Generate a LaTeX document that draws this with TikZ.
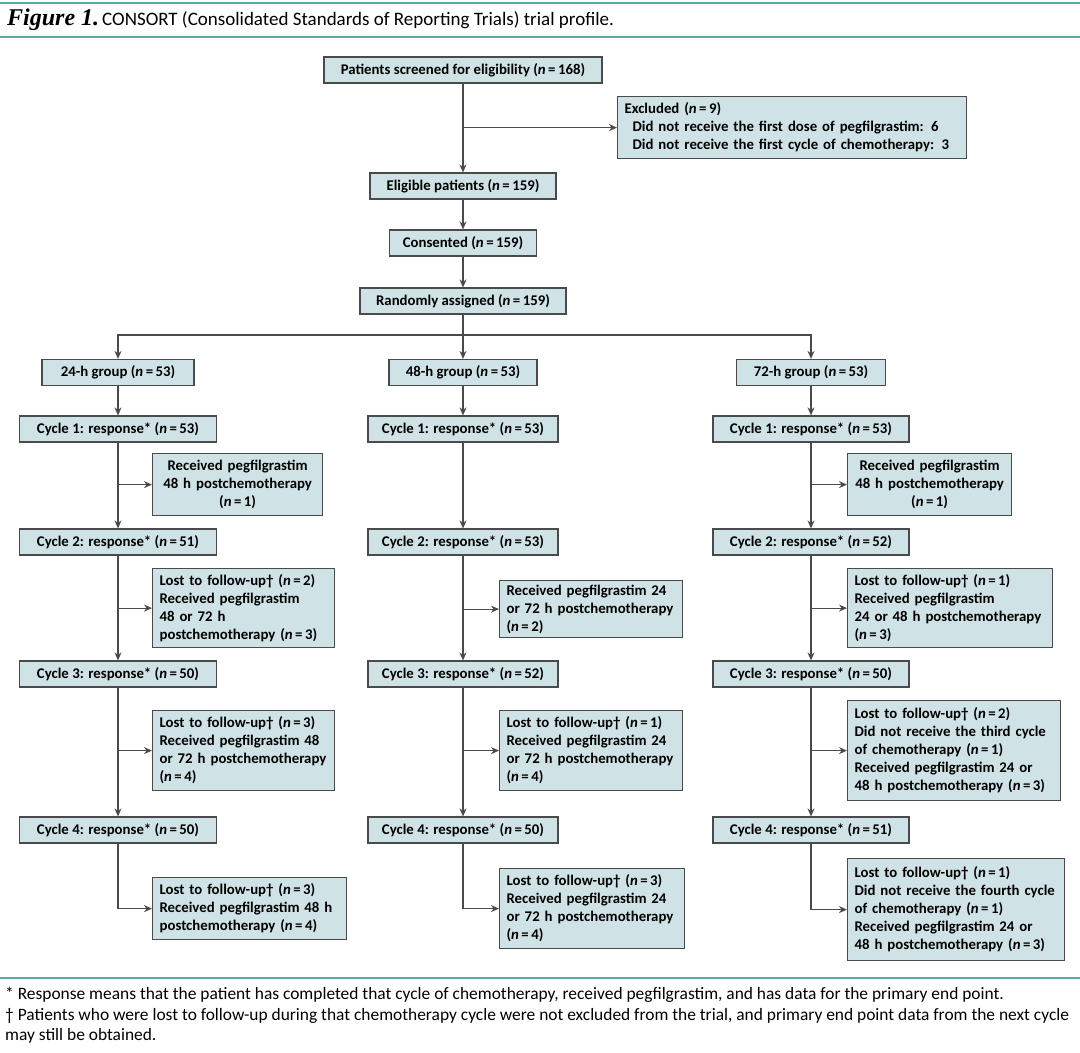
\documentclass[tikz,border=0pt]{standalone}
\usepackage{fontspec}
\setmainfont{Carlito}
\newfontfamily\serffont{Liberation Serif}
\usetikzlibrary{arrows.meta}
\definecolor{boxFill}{RGB}{207,226,229}
\definecolor{boxLine}{RGB}{74,74,74}
\definecolor{ruleTeal}{RGB}{90,168,168}
\newcommand{\nval}{\textit{n}\,=\,}
\tikzstyle{normalBox} = [shape=rectangle, draw=boxLine, fill=boxFill, line width=1.2pt,
	text=black, font=\fontsize{14.8}{18}\selectfont\bfseries]
\tikzstyle{MainBox} = [normalBox, align=center, inner sep=0pt, minimum height=26pt]
\tikzstyle{SideBox} = [normalBox, anchor=north west, align=left, inner xsep=7pt, inner ysep=0pt]
\tikzstyle{MidBox} = [SideBox, align=center]
\tikzstyle{normalArrow} = [line width=1.2pt, -{Stealth[length=8pt,width=7pt]}, draw=boxLine]
\tikzstyle{ruleLine} = [line width=2pt, draw=ruleTeal]

\begin{document}
\begin{tikzpicture}[x=1pt, y=-1pt]
  \fill[white] (0,0) rectangle (1080,1053);
  \useasboundingbox (0,0) rectangle (1080,1053);
  \draw [ruleLine] (0,3) -- (1080,3);
  \draw [ruleLine] (0,37) -- (1080,37);
  \draw [ruleLine] (0,978) -- (1080,978);
  \node (title) [anchor=west, inner sep=0pt, font=\fontsize{19}{22}\selectfont] at (7,20)
    {{\serffont\fontsize{24}{24}\selectfont\bfseries\itshape Figure 1.}\kern3pt CONSORT (Consolidated Standards of Reporting Trials) trial profile.};

  \node (scr) [MainBox, minimum width=278pt] at (463,70) {Patients screened for eligibility (\nval168)};
  \node (excl) [SideBox, text width=335pt, minimum height=62pt] at (617,96) {Excluded (\nval9)\\\hspace*{8pt}Did not receive the first dose of pegfilgrastim: 6\\\hspace*{8pt}Did not receive the first cycle of chemotherapy: 3};
  \node (elig) [MainBox, minimum width=186pt] at (463,186) {Eligible patients (\nval159)};
  \node (cons) [MainBox, minimum width=147pt] at (463,243) {Consented (\nval159)};
  \node (rand) [MainBox, minimum width=206pt] at (463,301) {Randomly assigned (\nval159)};
  \coordinate (split) at (463,335);

  \node (g24) [MainBox, minimum width=152pt] at (118,372.5) {24-h group (\nval53)};
  \node (g48) [MainBox, minimum width=148pt] at (463,372.5) {48-h group (\nval53)};
  \node (g72) [MainBox, minimum width=149pt] at (811,372.5) {72-h group (\nval53)};

  % 24-h arm
  \node (c1A) [MainBox, minimum width=197pt] at (118,429) {Cycle 1: response* (\nval53)};
  \node (c2A) [MainBox, minimum width=197pt] at (118,542) {Cycle 2: response* (\nval51)};
  \node (c3A) [MainBox, minimum width=197pt] at (118,674) {Cycle 3: response* (\nval50)};
  \node (c4A) [MainBox, minimum width=197pt] at (118,830) {Cycle 4: response* (\nval50)};
  \node (s1A) [MidBox, text width=156pt, minimum height=62pt] at (152,453) {Received pegfilgrastim\\48 h postchemotherapy\\(\nval1)};
  \node (s2A) [SideBox, text width=168pt, minimum height=79pt] at (152,568) {Lost to follow-up† (\nval2)\\Received pegfilgrastim\\48 or 72 h\\postchemotherapy (\nval3)};
  \node (s3A) [SideBox, text width=168pt, minimum height=80pt] at (152,710) {Lost to follow-up† (\nval3)\\Received pegfilgrastim 48\\or 72 h postchemotherapy\\(\nval4)};
  \node (s4A) [SideBox, text width=180pt, minimum height=62pt] at (152,877) {Lost to follow-up† (\nval3)\\Received pegfilgrastim 48 h\\postchemotherapy (\nval4)};

  % 48-h arm
  \node (c1B) [MainBox, minimum width=190pt] at (463,429) {Cycle 1: response* (\nval53)};
  \node (c2B) [MainBox, minimum width=190pt] at (463,542) {Cycle 2: response* (\nval53)};
  \node (c3B) [MainBox, minimum width=190pt] at (463,674) {Cycle 3: response* (\nval52)};
  \node (c4B) [MainBox, minimum width=190pt] at (463,830) {Cycle 4: response* (\nval50)};
  \node (s2B) [SideBox, text width=169pt, minimum height=57pt] at (499,580) {Received pegfilgrastim 24\\or 72 h postchemotherapy\\(\nval2)};
  \node (s3B) [SideBox, text width=169pt, minimum height=80pt] at (499,710) {Lost to follow-up† (\nval1)\\Received pegfilgrastim 24\\or 72 h postchemotherapy\\(\nval4)};
  \node (s4B) [SideBox, text width=171pt, minimum height=80pt] at (499,868) {Lost to follow-up† (\nval3)\\Received pegfilgrastim 24\\or 72 h postchemotherapy\\(\nval4)};

  % 72-h arm
  \node (c1C) [MainBox, minimum width=196pt] at (811,429) {Cycle 1: response* (\nval53)};
  \node (c2C) [MainBox, minimum width=196pt] at (811,542) {Cycle 2: response* (\nval52)};
  \node (c3C) [MainBox, minimum width=196pt] at (811,674) {Cycle 3: response* (\nval50)};
  \node (c4C) [MainBox, minimum width=196pt] at (811,830) {Cycle 4: response* (\nval51)};
  \node (s1C) [MidBox, text width=150pt, minimum height=62pt] at (847,453) {Received pegfilgrastim\\48 h postchemotherapy\\(\nval1)};
  \node (s2C) [SideBox, text width=191pt, minimum height=79pt] at (847,568) {Lost to follow-up† (\nval1)\\Received pegfilgrastim\\24 or 48 h postchemotherapy\\(\nval3)};
  \node (s3C) [SideBox, text width=199pt, minimum height=100pt] at (847,700) {Lost to follow-up† (\nval2)\\Did not receive the third cycle\\of chemotherapy (\nval1)\\Received pegfilgrastim 24 or\\48 h postchemotherapy (\nval3)};
  \node (s4C) [SideBox, text width=203pt, minimum height=102pt] at (847,858) {Lost to follow-up† (\nval1)\\Did not receive the fourth cycle\\of chemotherapy (\nval1)\\Received pegfilgrastim 24 or\\48 h postchemotherapy (\nval3)};

  \node (notes) [anchor=north west, inner sep=0pt, align=left, font=\fontsize{17.4}{20.5}\selectfont] at (5,987)
    {* Response means that the patient has completed that cycle of chemotherapy, received pegfilgrastim, and has data for the primary end point.\\
     † Patients who were lost to follow-up during that chemotherapy cycle were not excluded from the trial, and primary end point data from the next cycle\\
     may still be obtained.};

  \draw [normalArrow] (scr) -- (elig);
  \draw [normalArrow] (scr |- excl) -- (excl);
  \draw [normalArrow] (elig) -- (cons);
  \draw [normalArrow] (cons) -- (rand);
  \draw [normalArrow] (rand) -- (g48);
  \draw [normalArrow] (split) -| (g24);
  \draw [normalArrow] (split) -| (g72);

  \draw [normalArrow] (g24) -- (c1A);
  \draw [normalArrow] (c1A) -- (c2A);
  \draw [normalArrow] (c2A) -- (c3A);
  \draw [normalArrow] (c3A) -- (c4A);
  \draw [normalArrow] (c1A |- s1A) -- (s1A);
  \draw [normalArrow] (c2A |- s2A) -- (s2A);
  \draw [normalArrow] (c3A |- s3A) -- (s3A);
  \draw [normalArrow] (c4A) |- (s4A);

  \draw [normalArrow] (g48) -- (c1B);
  \draw [normalArrow] (c1B) -- (c2B);
  \draw [normalArrow] (c2B) -- (c3B);
  \draw [normalArrow] (c3B) -- (c4B);
  \draw [normalArrow] (c2B |- s2B) -- (s2B);
  \draw [normalArrow] (c3B |- s3B) -- (s3B);
  \draw [normalArrow] (c4B) |- (s4B);

  \draw [normalArrow] (g72) -- (c1C);
  \draw [normalArrow] (c1C) -- (c2C);
  \draw [normalArrow] (c2C) -- (c3C);
  \draw [normalArrow] (c3C) -- (c4C);
  \draw [normalArrow] (c1C |- s1C) -- (s1C);
  \draw [normalArrow] (c2C |- s2C) -- (s2C);
  \draw [normalArrow] (c3C |- s3C) -- (s3C);
  \draw [normalArrow] (c4C) |- (s4C);
\end{tikzpicture}
\end{document}
